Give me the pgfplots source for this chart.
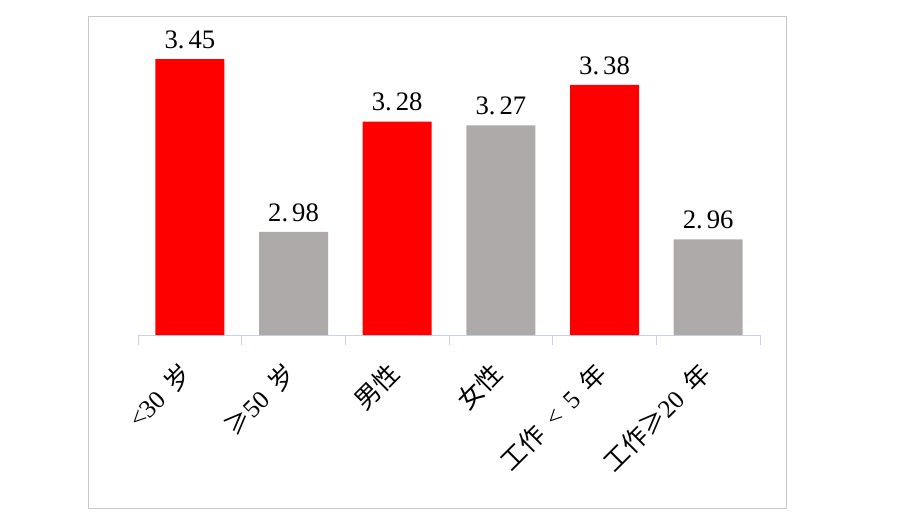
\documentclass[border=0pt]{standalone}
\usepackage{fontspec}
\setmainfont{Liberation Serif}
\newfontfamily\cjk{Noto Sans CJK SC}
\usepackage{pgfplots}
\pgfplotsset{compat=1.18}
\definecolor{barred}{HTML}{FF0000}
\definecolor{bargray}{HTML}{AEAAAA}
\definecolor{axline}{HTML}{C9D1EA}
\definecolor{frame}{HTML}{C8C8C8}
\newcommand{\gap}{\hspace{0.45em}}
\begin{document}
\begin{tikzpicture}
\path[use as bounding box] (0pt,0pt) rectangle (675pt,386.25pt);
\draw[frame, line width=0.75pt] (66pt,5.25pt) rectangle (589.5pt,373.5pt);
\begin{axis}[
  at={(103.5pt,135pt)}, anchor=south west,
  scale only axis, width=466.5pt, height=220.8pt,
  ymin=2.7, ymax=3.5, xmin=-0.5, xmax=5.5,
  axis x line*=bottom, axis y line=none,
  x axis line style={axline, line width=0.75pt},
  ytick=\empty,
  xtick={0,1,2,3,4,5},
  xticklabels={{<30\gap{\cjk 岁}}, {{\cjk ≥}50\gap{\cjk 岁}}, {\cjk 男性}, {\cjk 女性}, {{\cjk 工作}\gap<\gap5\gap{\cjk 年}}, {{\cjk 工作≥}20\gap{\cjk 年}}},
  major tick length=0pt,
  minor xtick={-0.5,0.5,...,5.5},
  minor tick length=7.5pt,
  tick align=outside,
  minor tick style={axline, line width=0.75pt},
  xticklabel style={font=\fontsize{19pt}{21pt}\selectfont, rotate=45, anchor=east, inner sep=0pt, xshift=-3pt},
  xticklabel shift=23pt,
  ybar, bar width=51.75pt, bar shift=0pt,
  clip=false,
  nodes near coords={\pgfmathprintnumber[fixed,precision=2,fixed zerofill,assume math mode=true,set decimal separator={.\hspace{3pt}}]{\pgfplotspointmeta}},
  nodes near coords style={font=\fontsize{20pt}{22pt}\selectfont, anchor=south, inner sep=0pt, yshift=7.5pt, black},
]
\addplot[draw=none, fill=barred] coordinates {(0,3.45) (2,3.28) (4,3.38)};
\addplot[draw=none, fill=bargray] coordinates {(1,2.98) (3,3.27) (5,2.96)};
\end{axis}
\end{tikzpicture}
\end{document}
